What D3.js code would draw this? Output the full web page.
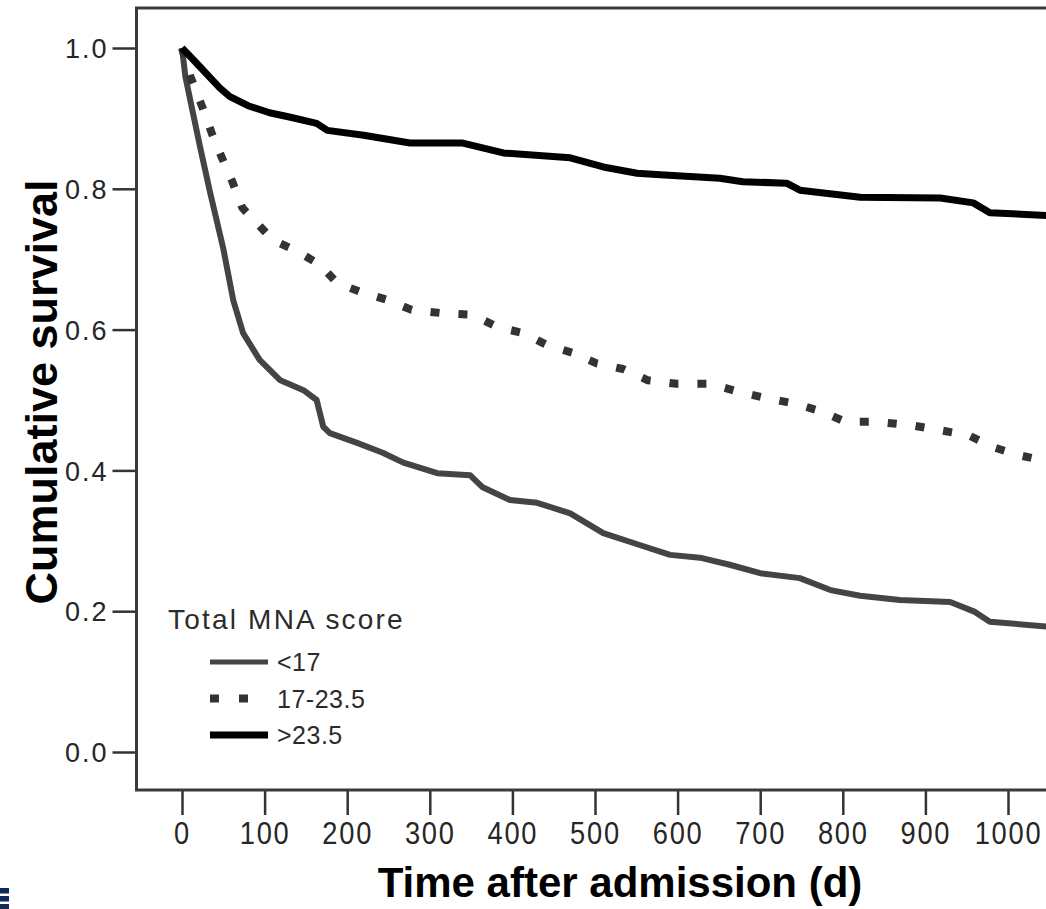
<!DOCTYPE html>
<html>
<head>
<meta charset="utf-8">
<script src="https://cdn.jsdelivr.net/npm/d3@7"></script>
<style>
  body { margin: 0; background: #fff; }
  svg { display: block; }
</style>
</head>
<body>
<svg></svg>
<script>
// данные кривых выживаемости (дни, доля выживших)
const xTicks = [0, 100, 200, 300, 400, 500, 600, 700, 800, 900, 1000];
const yTicks = [0.0, 0.2, 0.4, 0.6, 0.8, 1.0];
const groups = ["<17", "17-23.5", ">23.5"];

const daysLow = [0, 4, 10, 22, 34, 50, 62, 74, 94, 119, 147, 163, 171, 179, 212, 243, 268, 309, 349, 364, 397, 430, 470, 510, 554, 591, 627, 663, 700, 748, 785, 821, 869, 930, 960, 978, 1050];
const survLow = [1.0, 0.96, 0.926, 0.859, 0.795, 0.715, 0.642, 0.595, 0.557, 0.528, 0.514, 0.500, 0.462, 0.453, 0.439, 0.425, 0.411, 0.396, 0.393, 0.376, 0.358, 0.354, 0.339, 0.311, 0.294, 0.280, 0.276, 0.266, 0.254, 0.247, 0.230, 0.222, 0.216, 0.213, 0.199, 0.185, 0.178];

const daysMid = [0, 10, 25, 36, 48, 61, 73, 91, 110, 140, 167, 188, 215, 249, 278, 318, 352, 381, 413, 442, 473, 502, 534, 564, 599, 639, 676, 706, 745, 776, 803, 841, 884, 918, 952, 982, 1012, 1050];
const survMid = [1.0, 0.96, 0.915, 0.879, 0.845, 0.810, 0.773, 0.751, 0.727, 0.711, 0.692, 0.666, 0.654, 0.642, 0.628, 0.623, 0.621, 0.604, 0.595, 0.578, 0.567, 0.552, 0.544, 0.528, 0.523, 0.523, 0.511, 0.503, 0.494, 0.483, 0.469, 0.469, 0.464, 0.457, 0.450, 0.433, 0.422, 0.412];

const daysHigh = [0, 10, 22, 34, 46, 58, 80, 106, 130, 163, 176, 220, 276, 340, 389, 470, 510, 551, 579, 651, 679, 732, 748, 821, 918, 958, 978, 1050];
const survHigh = [1.0, 0.988, 0.973, 0.958, 0.943, 0.931, 0.918, 0.908, 0.902, 0.893, 0.883, 0.876, 0.865, 0.865, 0.851, 0.844, 0.831, 0.822, 0.820, 0.815, 0.810, 0.808, 0.798, 0.788, 0.787, 0.780, 0.766, 0.762];

// инициализация svg элемента
const width = 1046;
const height = 909;
let svg = d3.select("svg")
  .attr("width", width)
  .attr("height", height);

const frame = { left: 136.5, top: 8, right: 1052, bottom: 790 };

let x = d3.scaleLinear().domain([0, 1000]).range([182, 1008]);
let y = d3.scaleLinear().domain([0, 1]).range([752, 48]);

// стили линий
const styles = [
  { stroke: "#444", width: 6, dash: null },
  { stroke: "#333", width: 8, dash: "9,19" },
  { stroke: "#000", width: 7, dash: null }
];

const series = [
  d3.zip(daysLow, survLow),
  d3.zip(daysMid, survMid),
  d3.zip(daysHigh, survHigh)
];

svg.append("clipPath").attr("id", "plotClip")
  .append("rect")
  .attr("x", frame.left)
  .attr("y", frame.top)
  .attr("width", frame.right - frame.left)
  .attr("height", frame.bottom - frame.top);

// оси
let yAxis = svg.append("g")
  .attr("transform", `translate(${frame.left},0)`)
  .call(d3.axisLeft(y).tickValues(yTicks).tickSize(24).tickPadding(4).tickFormat(d3.format(".1f")));

let xAxis = svg.append("g")
  .attr("transform", `translate(0,${frame.bottom})`)
  .call(d3.axisBottom(x).tickValues(xTicks).tickSize(25).tickPadding(8).tickFormat(d3.format("d")));

[yAxis, xAxis].forEach(a => {
  a.select(".domain").remove();
  a.selectAll(".tick line").attr("stroke", "#333").attr("stroke-width", 2.5);
  a.selectAll(".tick text")
    .attr("fill", "#262626")
    .style("font-family", "'Liberation Sans', Arial, sans-serif")
    .style("letter-spacing", "2px");
});
yAxis.selectAll(".tick text").style("font-size", "27px").attr("dy", "0.36em");
// подписи по X узкие и высокие
xAxis.selectAll(".tick text")
  .style("font-size", "31px")
  .attr("dy", "0.68em")
  .attr("transform", "scale(0.88,1)");

// рамка графика
svg.append("rect")
  .attr("x", frame.left)
  .attr("y", frame.top)
  .attr("width", frame.right - frame.left)
  .attr("height", frame.bottom - frame.top)
  .attr("fill", "none")
  .attr("stroke", "#3a3a3a")
  .attr("stroke-width", 3);

// кривые
const line = d3.line()
  .x(d => x(d[0]))
  .y(d => y(d[1]));

let curves = svg.append("g").attr("clip-path", "url(#plotClip)");
series.forEach((s, i) => {
  curves.append("path")
    .attr("d", line(s))
    .attr("fill", "none")
    .attr("stroke", styles[i].stroke)
    .attr("stroke-width", styles[i].width)
    .attr("stroke-dasharray", styles[i].dash)
    .attr("stroke-linejoin", "round");
});

// легенда
let legend = svg.append("g");
legend.append("text")
  .attr("x", 168)
  .attr("y", 629)
  .text("Total MNA score")
  .attr("fill", "#2b2b2b")
  .style("font-family", "'Liberation Sans', Arial, sans-serif")
  .style("font-size", "28px")
  .style("letter-spacing", "2.2px");

groups.forEach((g, i) => {
  const ly = 662 + i * 36.5;
  legend.append("line")
    .attr("x1", 210)
    .attr("x2", 268)
    .attr("y1", ly)
    .attr("y2", ly)
    .attr("stroke", styles[i].stroke)
    .attr("stroke-width", i == 1 ? 8 : (i == 0 ? 5 : 7))
    .attr("stroke-dasharray", i == 1 ? "9,20" : null);
  legend.append("text")
    .attr("x", 277)
    .attr("y", ly)
    .attr("dy", "0.36em")
    .text(g)
    .attr("fill", "#2b2b2b")
    .style("font-family", "'Liberation Sans', Arial, sans-serif")
    .style("font-size", "25px")
    .style("letter-spacing", "0.5px");
});

// подписи осей
svg.append("text")
  .attr("x", 620)
  .attr("y", 897)
  .attr("text-anchor", "middle")
  .text("Time after admission (d)")
  .style("font-family", "'Liberation Sans', Arial, sans-serif")
  .style("font-weight", "bold")
  .style("font-size", "42px");

svg.append("text")
  .attr("transform", "translate(57,392) rotate(-90)")
  .attr("text-anchor", "middle")
  .text("Cumulative survival")
  .style("font-family", "'Liberation Sans', Arial, sans-serif")
  .style("font-weight", "bold")
  .style("font-size", "45px");

// значок в углу
svg.append("g").selectAll("rect")
  .data([888, 896, 904])
  .join("rect")
  .attr("x", 0)
  .attr("y", d => d)
  .attr("width", 9)
  .attr("height", 5.5)
  .attr("fill", "#0d2a5a");
</script>
</body>
</html>
